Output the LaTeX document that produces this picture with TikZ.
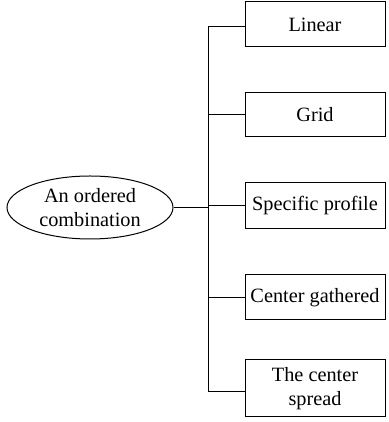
\documentclass[tikz,border=0pt]{standalone}
\usepackage{fontspec}
\setmainfont{Liberation Serif}
\usetikzlibrary{shapes.geometric}
\begin{document}
\begin{tikzpicture}[x=1pt,y=1pt,
  every node/.style={font=\fontsize{20.3}{24}\selectfont, inner sep=0pt, align=center},
  leaf/.style={draw, line width=1pt, minimum width=140pt},
  rootnode/.style={draw, ellipse, line width=1pt, minimum width=166pt, minimum height=63pt},
  link/.style={line width=1pt}]
\useasboundingbox (0,0) rectangle (388,422);
\node[rootnode] (root) at (90,214.5) {An ordered\\combination};
\node[leaf, minimum height=45pt] (linear) at (315,397.5) {Linear};
\node[leaf, minimum height=44pt] (grid) at (315,307) {Grid};
\node[leaf, minimum height=46pt] (spec) at (315,216) {Specific profile};
\node[leaf, minimum height=45pt] (gath) at (315,124.5) {Center gathered};
\node[leaf, minimum height=57pt] (spread) at (315,33.5) {The center\\spread};
\coordinate (ttop) at (208,395);
\coordinate (tbot) at (208,30);
\draw[link] (ttop) -- (tbot);
\draw[link] (root.east) -- (root.east -| ttop);
\draw[link] (ttop) -- (ttop -| linear.west);
\draw[link] (grid.west) -- (grid.west -| ttop);
\draw[link] (spec.west) -- (spec.west -| ttop);
\draw[link] (gath.west) -- (gath.west -| ttop);
\draw[link] (tbot) -- (tbot -| spread.west);
\end{tikzpicture}
\end{document}
